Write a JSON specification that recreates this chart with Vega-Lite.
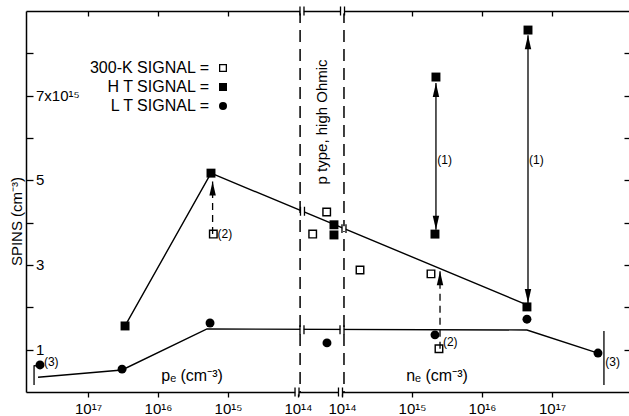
{
  "$schema": "https://vega.github.io/schema/vega-lite/v6.json",
  "width": 603,
  "height": 381,
  "autosize": {"type": "none"},
  "padding": {"left": 26, "top": 11, "right": 0, "bottom": 24},
  "background": "white",
  "config": {
    "font": "Liberation Sans",
    "view": {"stroke": null},
    "axis": {"grid": false, "domainColor": "black", "tickColor": "black", "labelColor": "black", "titleColor": "black", "domainWidth": 1.5, "tickWidth": 1.3, "labelFont": "Liberation Sans", "titleFont": "Liberation Sans"}
  },
  "datasets": {
    "pts": [
      {"series": "300-K", "u": 1.79, "v": 3.73},
      {"series": "300-K", "u": 3.21, "v": 3.73},
      {"series": "300-K", "u": 3.41, "v": 4.25},
      {"series": "300-K", "u": 3.886, "v": 2.88},
      {"series": "300-K", "u": 4.9, "v": 2.79},
      {"series": "300-K", "u": 5.014, "v": 1.02},
      {"series": "HT", "u": 0.529, "v": 1.56},
      {"series": "HT", "u": 1.757, "v": 5.17},
      {"series": "HT", "u": 3.514, "v": 3.95},
      {"series": "HT", "u": 3.514, "v": 3.71},
      {"series": "HT", "u": 4.971, "v": 7.44},
      {"series": "HT", "u": 4.957, "v": 3.73},
      {"series": "HT", "u": 6.286, "v": 8.55},
      {"series": "HT", "u": 6.271, "v": 2.01},
      {"series": "LT", "u": -0.686, "v": 0.64},
      {"series": "LT", "u": 0.486, "v": 0.54},
      {"series": "LT", "u": 1.743, "v": 1.63},
      {"series": "LT", "u": 3.414, "v": 1.16},
      {"series": "LT", "u": 4.957, "v": 1.35},
      {"series": "LT", "u": 6.271, "v": 1.72},
      {"series": "LT", "u": 7.286, "v": 0.92}
    ],
    "lines": [
      {"series": "HT", "ord": 1, "u": 0.529, "v": 1.56},
      {"series": "HT", "ord": 2, "u": 1.757, "v": 5.17},
      {"series": "HT", "ord": 3, "u": 6.271, "v": 2.06},
      {"series": "LT", "ord": 1, "u": -0.714, "v": 0.35},
      {"series": "LT", "ord": 2, "u": 0.486, "v": 0.52},
      {"series": "LT", "ord": 3, "u": 1.7, "v": 1.49},
      {"series": "LT", "ord": 4, "u": 6.271, "v": 1.465},
      {"series": "LT", "ord": 5, "u": 7.286, "v": 0.92}
    ],
    "bars": [
      {"u": -0.771, "v1": 0.165, "v2": 0.63},
      {"u": 7.371, "v1": 0.165, "v2": 1.44}
    ],
    "hooks": [
      {"u": -0.771, "u2": -0.7, "v": 0.62}
    ],
    "arrows": [
      {"u": 1.78, "v1": 3.73, "v2": 4.97, "style": "dashed"},
      {"u": 5.029, "v1": 1.02, "v2": 2.85, "style": "dashed"},
      {"u": 4.971, "v1": 3.83, "v2": 7.3, "style": "solid"},
      {"u": 6.286, "v1": 2.1, "v2": 8.43, "style": "solid"}
    ],
    "heads": [
      {"u": 1.78, "v": 4.97, "dir": "up"},
      {"u": 5.029, "v": 2.85, "dir": "up"},
      {"u": 4.971, "v": 7.3, "dir": "up"},
      {"u": 4.971, "v": 3.83, "dir": "down"},
      {"u": 6.286, "v": 8.43, "dir": "up"},
      {"u": 6.286, "v": 2.1, "dir": "down"}
    ],
    "vlines": [{"u": 3.03}, {"u": 3.657}],
    "breaks": [
      {"u": 3.057, "v": 9},
      {"u": 3.636, "v": 9},
      {"u": 2.986, "v": 0},
      {"u": 3.607, "v": 0},
      {"u": 3.064, "v": 4.27},
      {"u": 3.657, "v": 3.86},
      {"u": 3.057, "v": 1.47},
      {"u": 3.629, "v": 1.47}
    ],
    "ylabels": [
      {"u": -0.886, "v": 1, "text": "1"},
      {"u": -0.886, "v": 3, "text": "3"},
      {"u": -0.886, "v": 5, "text": "5"},
      {"u": -0.886, "v": 7, "text": "7x10¹⁵"}
    ],
    "notes": [
      {"u": 1.85, "v": 3.73, "text": "(2)"},
      {"u": 5.07, "v": 1.18, "text": "(2)"},
      {"u": 4.99, "v": 5.48, "text": "(1)"},
      {"u": 6.3, "v": 5.48, "text": "(1)"},
      {"u": -0.63, "v": 0.71, "text": "(3)"},
      {"u": 7.39, "v": 0.71, "text": "(3)"}
    ],
    "axlabels": [
      {"u": 1.486, "v": 0.38, "text": "pₑ (cm⁻³)"},
      {"u": 4.986, "v": 0.38, "text": "nₑ (cm⁻³)"}
    ],
    "region": [
      {"u": 3.343, "v": 6.38, "text": "p type, high Ohmic"}
    ]
  },
  "encoding": {
    "x": {"field": "u", "type": "quantitative", "scale": {"domain": [-0.886, 7.729], "nice": false, "zero": false}, "axis": null},
    "y": {"field": "v", "type": "quantitative", "scale": {"domain": [0, 9], "nice": false, "zero": false}, "axis": null}
  },
  "layer": [
    {
      "data": {"name": "vlines"},
      "mark": {"type": "rule", "color": "black", "strokeWidth": 1.5, "strokeDash": [12, 7]},
      "encoding": {
        "x": {"field": "u", "type": "quantitative", "scale": {"domain": [-0.886, 7.729], "nice": false, "zero": false},
          "axis": {"orient": "bottom", "values": [0, 1, 2, 3, 3.629, 4.629, 5.629, 6.629], "tickSize": 5, "labelPadding": 16, "labelBaseline": "alphabetic", "labelFontSize": 15, "labelFlush": false, "labelOverlap": false, "title": null,
            "labelExpr": "datum.value < 0.5 ? '10¹⁷' : datum.value < 1.5 ? '10¹⁶' : datum.value < 2.5 ? '10¹⁵' : datum.value < 3.3 ? '10¹⁴' : datum.value < 4 ? '10¹⁴' : datum.value < 5 ? '10¹⁵' : datum.value < 6 ? '10¹⁶' : '10¹⁷'"}},
        "y": null
      }
    },
    {
      "data": {"name": "lines"},
      "mark": {"type": "line", "color": "black", "strokeWidth": 1.4},
      "encoding": {
        "detail": {"field": "series"},
        "order": {"field": "ord", "type": "quantitative"},
        "y": {"field": "v", "type": "quantitative", "scale": {"domain": [0, 9], "nice": false, "zero": false},
          "axis": {"orient": "left", "values": [1, 2, 3, 4, 5, 6, 7, 8], "tickSize": -7, "labels": false,
            "title": "SPINS (cm⁻³)", "titleFontSize": 15, "titleFontWeight": "normal", "titleAngle": -90, "titleX": -10, "titleY": 210, "titleAlign": "center", "titleBaseline": "middle"}}
      }
    },
    {
      "data": {"name": "ylabels"},
      "mark": {"type": "text", "align": "left", "baseline": "middle", "fontSize": 15, "color": "black", "dx": 10},
      "encoding": {
        "text": {"field": "text"}
      }
    },
    {
      "data": {"name": "bars"},
      "mark": {"type": "rule", "color": "black", "strokeWidth": 1.3},
      "encoding": {
        "y": {"field": "v1", "type": "quantitative", "axis": null},
        "y2": {"field": "v2"}
      }
    },
    {
      "data": {"name": "hooks"},
      "mark": {"type": "rule", "color": "black", "strokeWidth": 1.3},
      "encoding": {
        "x2": {"field": "u2"}
      }
    },
    {
      "data": {"name": "arrows"},
      "mark": {"type": "rule", "color": "black", "strokeWidth": 1.3},
      "encoding": {
        "y": {"field": "v1", "type": "quantitative", "axis": null},
        "y2": {"field": "v2"},
        "strokeDash": {"field": "style", "type": "nominal", "scale": {"domain": ["solid", "dashed"], "range": [[1, 0], [7, 5]]}, "legend": null}
      }
    },
    {
      "data": {"name": "heads"},
      "mark": {"type": "point", "filled": true, "color": "black", "opacity": 1, "size": 784},
      "encoding": {
        "shape": {"field": "dir", "type": "nominal", "scale": {"domain": ["up", "down"], "range": ["M0,0L0.23,1L-0.23,1Z", "M0,0L0.23,-1L-0.23,-1Z"]}, "legend": null}
      }
    },
    {
      "data": {"name": "breaks"},
      "mark": {"type": "point", "filled": true, "fill": "white", "strokeWidth": 0, "opacity": 1, "size": 64, "shape": "M-0.45,-0.6H0.45V0.6H-0.45Z"}
    },
    {
      "data": {"name": "breaks"},
      "mark": {"type": "point", "filled": false, "stroke": "black", "strokeWidth": 1.3, "opacity": 1, "size": 64, "shape": "M-0.5,-1.1V1.1M0.5,-1.1V1.1"},
      "encoding": {
        "x": {"field": "u", "type": "quantitative", "scale": {"domain": [-0.886, 7.729], "nice": false, "zero": false},
          "axis": {"orient": "top", "values": [0, 1, 2, 4.629, 5.629, 6.629], "tickSize": -5, "labels": false, "title": null}}
      }
    },
    {
      "data": {"name": "pts"},
      "mark": {"type": "point", "filled": true, "color": "black", "opacity": 1, "size": 80},
      "encoding": {
        "shape": {"field": "series", "type": "nominal", "scale": {"domain": ["300-K", "HT", "LT"], "range": ["M-1,-1H1V1H-1ZM-0.68,-0.68V0.68H0.68V-0.68Z", "square", "circle"]},
          "legend": {"orient": "none", "legendX": 189, "legendY": 49, "title": null, "padding": 0, "labelAlign": "right", "labelOffset": -22, "labelFontSize": 16, "labelColor": "black", "labelFont": "Liberation Sans", "symbolSize": 64, "symbolFillColor": "black", "symbolStrokeWidth": 0, "symbolOpacity": 1, "rowPadding": 3,
            "labelExpr": "datum.label == '300-K' ? '300-K SIGNAL =' : datum.label == 'HT' ? 'H T SIGNAL =' : 'L T SIGNAL ='"}},
        "y": {"field": "v", "type": "quantitative", "scale": {"domain": [0, 9], "nice": false, "zero": false},
          "axis": {"orient": "right", "values": [1, 2, 3, 4, 5, 6, 7, 8], "tickSize": -5, "labels": false, "domain": false, "title": null}}
      }
    },
    {
      "data": {"name": "notes"},
      "mark": {"type": "text", "align": "left", "baseline": "middle", "fontSize": 12, "color": "black"},
      "encoding": {"text": {"field": "text"}}
    },
    {
      "data": {"name": "axlabels"},
      "mark": {"type": "text", "align": "center", "baseline": "middle", "fontSize": 16, "color": "black"},
      "encoding": {"text": {"field": "text"}}
    },
    {
      "data": {"name": "region"},
      "mark": {"type": "text", "align": "center", "baseline": "middle", "fontSize": 15, "angle": 270, "color": "black"},
      "encoding": {"text": {"field": "text"}}
    }
  ],
  "resolve": {"axis": {"x": "independent", "y": "independent"}, "scale": {"shape": "independent"}}
}
